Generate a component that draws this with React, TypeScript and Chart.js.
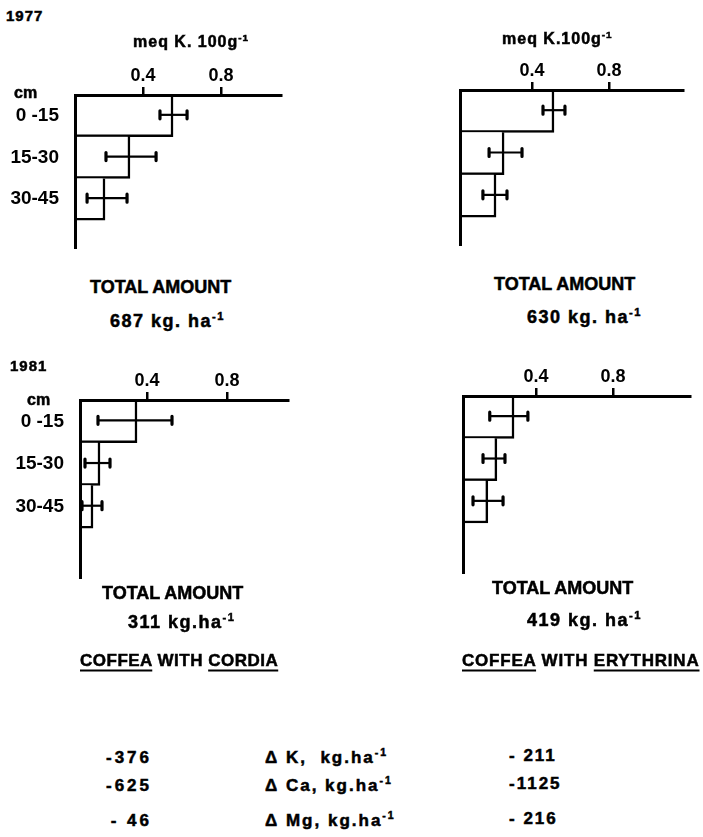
import React, { useEffect, useRef } from 'react';
import { Chart, registerables } from 'chart.js';
Chart.register(...registerables);

const FONT = "'Liberation Sans', Arial, sans-serif";

// ---- data ----
const depthLabels = ['0 -15', '15-30', '30-45'];
const xTickValues = [0.4, 0.8];

const cordia1977 = [0.554, 0.333, 0.205];
const cordia1977Lo = [0.487, 0.21, 0.113];
const cordia1977Hi = [0.626, 0.467, 0.318];

const erythrina1977 = [0.514, 0.255, 0.213];
const erythrina1977Lo = [0.457, 0.177, 0.145];
const erythrina1977Hi = [0.571, 0.348, 0.27];

const cordia1981 = [0.35, 0.165, 0.13];
const cordia1981Lo = [0.155, 0.09, 0.075];
const cordia1981Hi = [0.525, 0.215, 0.175];

const erythrina1981 = [0.286, 0.197, 0.15];
const erythrina1981Lo = [0.16, 0.125, 0.073];
const erythrina1981Hi = [0.358, 0.239, 0.229];

const years = ['1977', '1981'];
const totalAmounts = ['687', '630', '311', '419'];
const deltaNutrients = ['K', 'Ca', 'Mg'];
const deltaCordia = ['-376', '-625', '- 46'];
const deltaErythrina = ['- 211', '-1125', '- 216'];

// ---- layout (page pixels of each plot area + axis ranges) ----
const panels = [
  { values: cordia1977, lo: cordia1977Lo, hi: cordia1977Hi, area: { left: 75, top: 95, right: 281, bottom: 248 }, xMin: 0.051, xMax: 1.108, yMax: 3.67, showLabels: true },
  { values: erythrina1977, lo: erythrina1977Lo, hi: erythrina1977Hi, area: { left: 460, top: 90, right: 683, bottom: 245 }, xMin: 0.026, xMax: 1.184, yMax: 3.66, showLabels: false },
  { values: cordia1981, lo: cordia1981Lo, hi: cordia1981Hi, area: { left: 80, top: 400, right: 288, bottom: 578 }, xMin: 0.065, xMax: 1.105, yMax: 4.17, showLabels: true },
  { values: erythrina1981, lo: erythrina1981Lo, hi: erythrina1981Hi, area: { left: 463, top: 396, right: 690, bottom: 573 }, xMin: 0.021, xMax: 1.2, yMax: 4.18, showLabels: false },
];

const errorBarPlugin = {
  id: 'errorBars',
  afterDatasetsDraw(chart: any, _args: any, opts: any) {
    const { ctx } = chart;
    const x = chart.scales.x;
    const y = chart.scales.y;
    const lo: number[] = opts.lo || [];
    const hi: number[] = opts.hi || [];
    ctx.save();
    ctx.strokeStyle = '#000';
    lo.forEach((l, i) => {
      const py = y.getPixelForValue(i + 0.5) - 1;
      const x1 = x.getPixelForValue(l);
      const x2 = x.getPixelForValue(hi[i]);
      ctx.lineWidth = 2.2;
      ctx.lineCap = 'butt';
      ctx.beginPath();
      ctx.moveTo(x1, py);
      ctx.lineTo(x2, py);
      ctx.stroke();
      ctx.lineWidth = 3.2;
      ctx.lineCap = 'round';
      ctx.beginPath();
      ctx.moveTo(x1, py - 4);
      ctx.lineTo(x1, py + 4);
      ctx.moveTo(x2, py - 4);
      ctx.lineTo(x2, py + 4);
      ctx.stroke();
    });
    ctx.restore();
  },
};

function BarPanel({ cfg }: { cfg: any }) {
  const ref = useRef<HTMLCanvasElement | null>(null);
  const { area, showLabels } = cfg;
  const canvasLeft = showLabels ? Math.max(0, area.left - 78) : area.left - 20;
  const canvasTop = area.top - 45;
  const width = area.right + 12 - canvasLeft;
  const height = area.bottom + 10 - canvasTop;
  const yAxisW = area.left - canvasLeft;

  useEffect(() => {
    if (!ref.current) return;
    const chart = new Chart(ref.current, {
      type: 'bar',
      data: {
        datasets: [
          {
            data: cfg.values.map((v: number, i: number) => ({ x: v, y: i + 0.5 })),
            backgroundColor: '#ffffff',
            borderColor: '#000000',
            borderWidth: { top: 0, right: 2.5, bottom: 2.5, left: 0 },
            borderSkipped: false,
            barPercentage: 1,
            categoryPercentage: 1,
            base: cfg.xMin,
          } as any,
        ],
      },
      options: {
        indexAxis: 'y',
        animation: false,
        responsive: false,
        maintainAspectRatio: false,
        events: [],
        layout: { padding: { left: 0, top: 0, right: 12, bottom: 10 } },
        plugins: {
          legend: { display: false },
          tooltip: { enabled: false },
          title: { display: false },
          errorBars: { lo: cfg.lo, hi: cfg.hi },
        } as any,
        scales: {
          x: {
            type: 'linear',
            position: 'top',
            min: cfg.xMin,
            max: cfg.xMax,
            offset: false,
            afterFit: (s: any) => { s.height = 45; s.paddingLeft = 0; s.paddingRight = 0; s.paddingTop = 0; s.paddingBottom = 0; },
            afterBuildTicks: (s: any) => { s.ticks = xTickValues.map((v) => ({ value: v })); },
            ticks: {
              color: '#000',
              padding: 0,
              font: { family: FONT, weight: 'bold', size: 18 },
              callback: (v: any) => Number(v).toFixed(1),
            },
            grid: { display: true, drawOnChartArea: false, drawTicks: true, tickLength: 8, lineWidth: 2.5, color: '#000', offset: false },
            border: { display: true, width: 3, color: '#000', z: 1 },
          },
          y: {
            type: 'linear',
            reverse: true,
            min: 0,
            max: cfg.yMax,
            offset: false,
            afterFit: (s: any) => { s.width = yAxisW; s.paddingLeft = 0; s.paddingRight = 0; s.paddingTop = 0; s.paddingBottom = 0; },
            afterBuildTicks: (s: any) => { s.ticks = depthLabels.map((_, i) => ({ value: i + 0.5 })); },
            ticks: {
              display: showLabels,
              color: '#000',
              padding: 16,
              font: { family: FONT, weight: 'bold', size: 19 },
              callback: (_v: any, i: number) => depthLabels[i],
            },
            grid: { display: false, drawTicks: false, offset: false },
            border: { display: true, width: 3, color: '#000', z: 1 },
          },
        } as any,
      },
      plugins: [errorBarPlugin],
    });
    return () => chart.destroy();
  }, []);

  return (
    <canvas
      ref={ref}
      width={width}
      height={height}
      style={{ position: 'absolute', left: canvasLeft, top: canvasTop, width, height }}
    />
  );
}

function T({ x, y, size = 18, ls = 0, right = false, children }: any) {
  const style: any = {
    position: 'absolute',
    top: y,
    transform: 'translateY(-50%)',
    fontFamily: FONT,
    fontWeight: 700,
    fontSize: size,
    letterSpacing: ls,
    lineHeight: 1,
    whiteSpace: 'pre',
    color: '#000',
    WebkitTextStroke: '0.5px #000',
  };
  if (right) style.right = 703 - x;
  else style.left = x;
  return <div style={style}>{children}</div>;
}

const Sup = ({ children }: any) => (
  <sup style={{ fontSize: '0.62em', lineHeight: 0, verticalAlign: '0.6em' }}>{children}</sup>
);

const U = ({ children }: any) => (
  <span style={{ textDecoration: 'underline', textDecorationThickness: '2px', textUnderlineOffset: '4px' }}>{children}</span>
);

export default function App() {
  const deltaY = [757, 785, 820];
  return (
    <div style={{ position: 'absolute', left: 0, top: 0, width: 703, height: 837, background: '#fff', overflow: 'hidden' }}>
      {panels.map((p, i) => <BarPanel key={i} cfg={p} />)}

      <T x={6} y={15} size={15} ls={1}>{years[0]}</T>
      <T x={133} y={42} size={16} ls={1}>meq K. 100g<Sup>-1</Sup></T>
      <T x={502} y={39} size={16} ls={1}>meq K.100g<Sup>-1</Sup></T>
      <T x={14} y={93} size={16}>cm</T>

      <T x={90} y={287} size={18}>TOTAL AMOUNT</T>
      <T x={110} y={321} size={18} ls={1.5}>{totalAmounts[0]} kg. ha<Sup>-1</Sup></T>
      <T x={494} y={284} size={18}>TOTAL AMOUNT</T>
      <T x={527} y={317} size={18} ls={1.5}>{totalAmounts[1]} kg. ha<Sup>-1</Sup></T>

      <T x={10} y={365} size={15} ls={1}>{years[1]}</T>
      <T x={27} y={400} size={16}>cm</T>

      <T x={102} y={593} size={18}>TOTAL AMOUNT</T>
      <T x={128} y={622} size={18} ls={1.5}>{totalAmounts[2]} kg.ha<Sup>-1</Sup></T>
      <T x={492} y={588} size={18}>TOTAL AMOUNT</T>
      <T x={527} y={620} size={18} ls={1.5}>{totalAmounts[3]} kg. ha<Sup>-1</Sup></T>

      <T x={80} y={660} size={17} ls={0.5}><U>COFFEA</U> WITH <U>CORDIA</U></T>
      <T x={462} y={660} size={17} ls={0.8}><U>COFFEA</U> WITH <U>ERYTHRINA</U></T>

      {deltaNutrients.map((n, i) => (
        <React.Fragment key={n}>
          <T x={152} y={deltaY[i]} size={17} ls={3} right>{deltaCordia[i]}</T>
          <T x={265} y={deltaY[i]} size={17} ls={2}>{`Δ ${n},${n === 'K' ? '  ' : ' '}kg.ha`}<Sup>-1</Sup></T>
          <T x={509} y={deltaY[i] - 2} size={17} ls={2}>{deltaErythrina[i]}</T>
        </React.Fragment>
      ))}
    </div>
  );
}
